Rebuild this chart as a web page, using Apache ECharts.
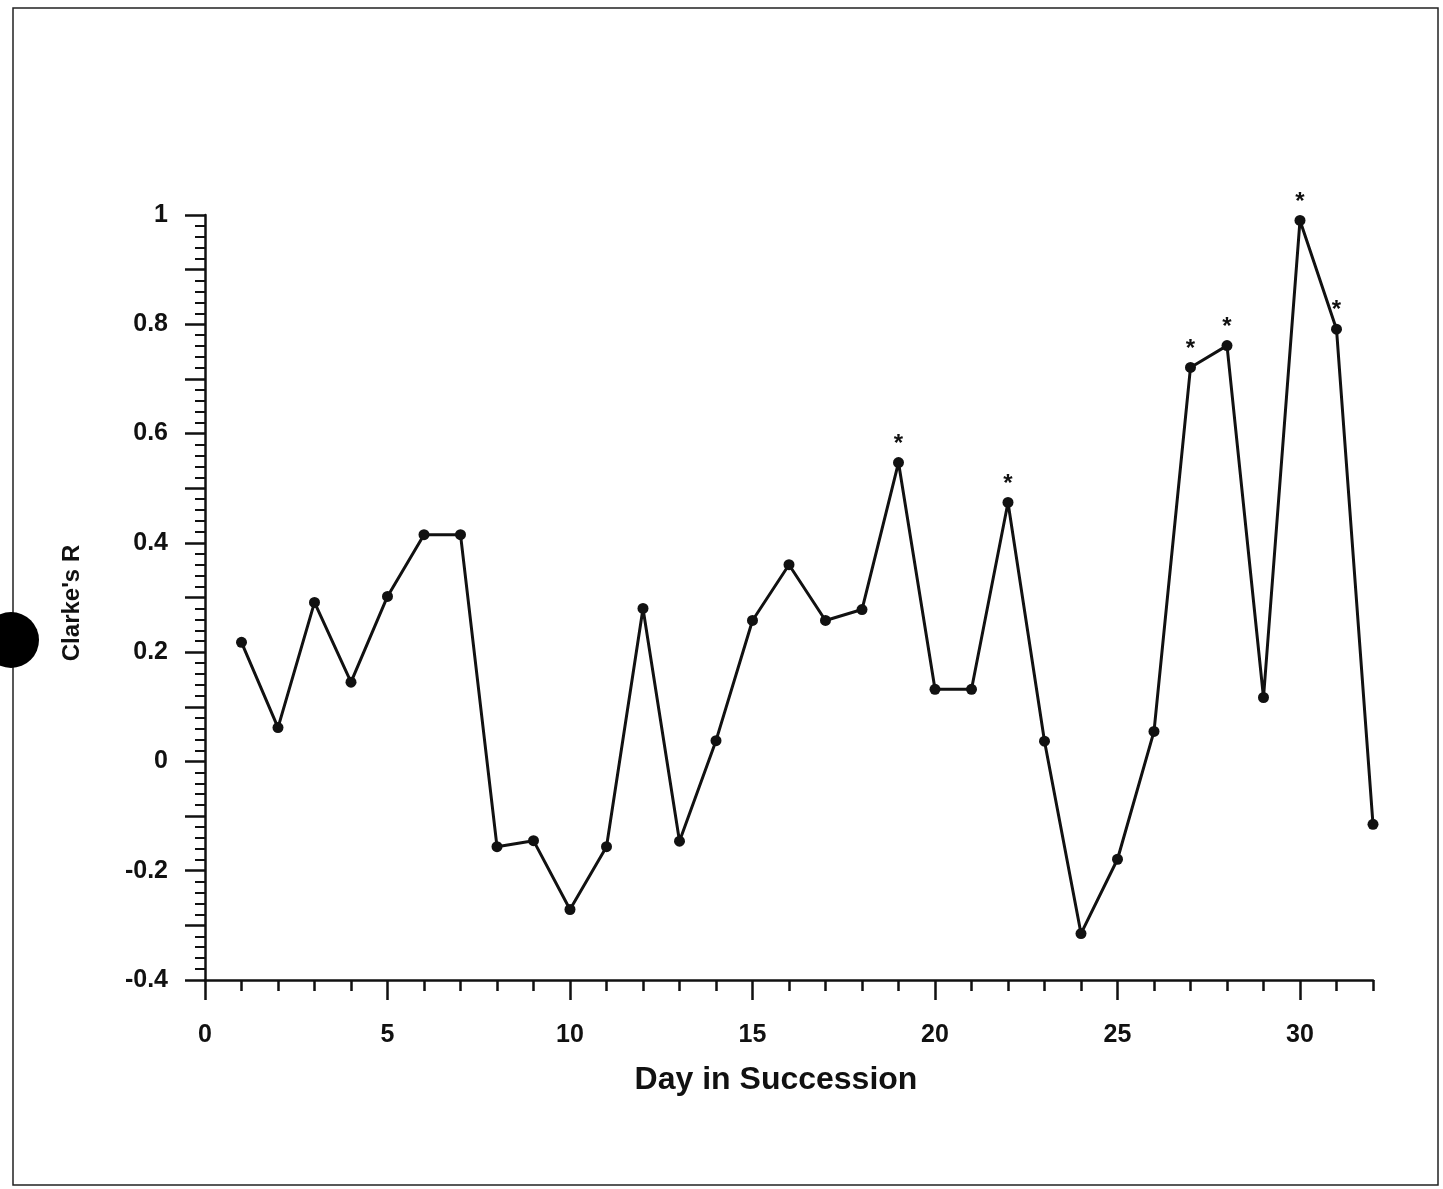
<!DOCTYPE html>
<html>
<head>
<meta charset="utf-8">
<script src="https://cdn.jsdelivr.net/npm/echarts@6/dist/echarts.min.js"></script>
<style>
html,body{margin:0;padding:0;background:#fff;}
#chart{width:1443px;height:1189px;}
</style>
</head>
<body>
<div id="chart"></div>
<script>
// ---- data ----
var days = [1,2,3,4,5,6,7,8,9,10,11,12,13,14,15,16,17,18,19,20,21,22,23,24,25,26,27,28,29,30,31,32];
var clarkeR = [0.218,0.062,0.291,0.145,0.302,0.415,0.415,-0.156,-0.145,-0.271,-0.156,0.280,-0.146,0.038,0.258,0.360,0.258,0.278,0.547,0.132,0.132,0.474,0.037,-0.315,-0.179,0.055,0.721,0.761,0.117,0.990,0.791,-0.115];
var significantDays = [19,22,27,28,30,31];
var xMajorTicks = [0,5,10,15,20,25,30];

var FONT = '"Liberation Sans", Arial, sans-serif';
var INK = '#111';

var seriesData = days.map(function(d, i){
  var item = { value: [d, clarkeR[i]] };
  if (significantDays.indexOf(d) >= 0) {
    item.label = { show: true, formatter: '*', position: 'top', distance: 1,
      fontSize: 24, fontWeight: 'bold', color: INK, fontFamily: FONT };
  }
  return item;
});

var chart = echarts.init(document.getElementById('chart'), null, {renderer:'canvas'});
chart.setOption({
  backgroundColor: '#fff',
  animation: false,
  grid: { left: 205, right: 70, top: 215, bottom: 209, containLabel: false },
  xAxis: [{
    type: 'value', min: 0, max: 32, interval: 5,
    axisLine: { show: true, onZero: false, lineStyle: { color: INK, width: 2.5 } },
    axisTick: { show: true, length: 20, lineStyle: { color: INK, width: 2.5 }, customValues: xMajorTicks },
    axisLabel: { show: true, margin: 43, fontSize: 25, fontWeight: 'bold', color: INK, fontFamily: FONT,
      customValues: xMajorTicks },
    splitLine: { show: false }
  },{
    type: 'value', min: 0, max: 32, interval: 1, position: 'bottom',
    axisLine: { show: false, onZero: false },
    axisTick: { show: true, length: 11, lineStyle: { color: INK, width: 2.5 } },
    axisLabel: { show: false },
    splitLine: { show: false }
  }],
  yAxis: [{
    type: 'value', min: -0.4, max: 1, interval: 0.1,
    axisLine: { show: true, onZero: false, lineStyle: { color: INK, width: 2.5 } },
    axisTick: { show: true, length: 20, lineStyle: { color: INK, width: 2.5 } },
    minorTick: { show: true, splitNumber: 5, length: 10, lineStyle: { color: INK, width: 2 } },
    axisLabel: { show: true, margin: 37, fontSize: 25, fontWeight: 'bold', color: INK, fontFamily: FONT,
      formatter: function(v){
        var k = Math.round(v * 10);
        if (k % 2 !== 0) return '';
        return String(k / 10);
      } },
    splitLine: { show: false }
  }],
  series: [{
    type: 'line',
    xAxisIndex: 0,
    data: seriesData,
    symbol: 'circle',
    symbolSize: 11,
    lineStyle: { color: INK, width: 3 },
    itemStyle: { color: INK },
    label: { show: false },
    z: 5
  }],
  graphic: [
    { type: 'rect', shape: { x: 13, y: 8, width: 1425, height: 1177 },
      style: { fill: 'none', stroke: '#222', lineWidth: 1.5 }, z: 0 },
    { type: 'circle', shape: { cx: 11, cy: 640, r: 28 }, style: { fill: '#000' }, z: 10 },
    { type: 'text', x: 776, y: 1080,
      style: { text: 'Day in Succession', font: 'bold 32px ' + FONT, fill: INK, align: 'center', verticalAlign: 'middle' } },
    { type: 'text', x: 72, y: 603, rotation: Math.PI / 2,
      style: { text: "Clarke's R", font: 'bold 24px ' + FONT, fill: INK, align: 'center', verticalAlign: 'middle' } }
  ]
});
</script>
</body>
</html>
